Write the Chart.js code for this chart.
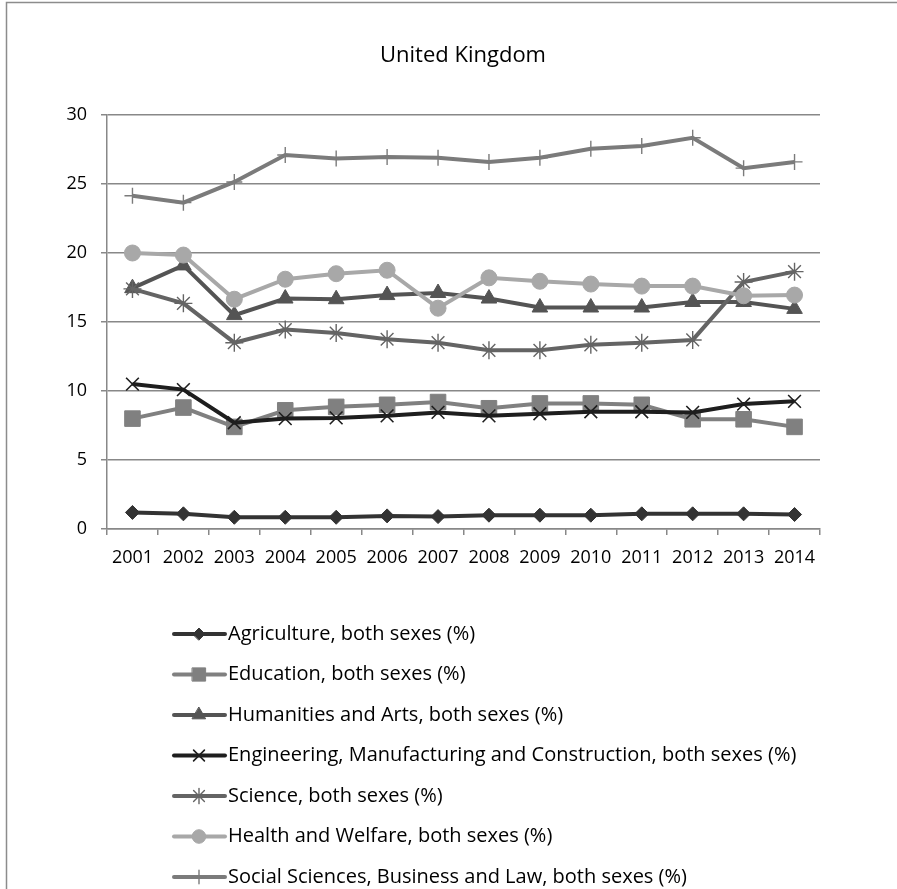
<!DOCTYPE html>
<html>
<head>
<meta charset="utf-8">
<title>United Kingdom</title>
<script src="https://cdn.jsdelivr.net/npm/chart.js@4"></script>
<style>
  html, body { margin: 0; padding: 0; background: #fff; }
  #wrap { position: relative; width: 897px; height: 889px; }
</style>
</head>
<body>
<div id="wrap"><canvas id="chart" width="897" height="889"></canvas></div>
<script>
// years on the x axis
const years = ['2001', '2002', '2003', '2004', '2005', '2006', '2007',
               '2008', '2009', '2010', '2011', '2012', '2013', '2014'];

// share of graduates by field, both sexes (%)
const agriculture = [1.2, 1.1, 0.85, 0.85, 0.85, 0.95, 0.9, 1.0, 1.0, 1.0, 1.1, 1.1, 1.1, 1.05];
const education = [8.0, 8.8, 7.4, 8.6, 8.85, 9.0, 9.2, 8.75, 9.1, 9.1, 9.0, 7.95, 7.95, 7.4];
const humanities = [17.45, 19.1, 15.5, 16.7, 16.65, 16.95, 17.1, 16.7, 16.05, 16.05, 16.05, 16.45, 16.45, 15.95];
const engineering = [10.5, 10.1, 7.7, 8.0, 8.05, 8.2, 8.45, 8.2, 8.35, 8.5, 8.5, 8.45, 9.05, 9.25];
const science = [17.4, 16.35, 13.5, 14.45, 14.2, 13.75, 13.5, 12.95, 12.95, 13.35, 13.5, 13.7, 17.9, 18.65];
const health = [20.0, 19.85, 16.65, 18.1, 18.5, 18.75, 16.0, 18.2, 17.95, 17.75, 17.6, 17.6, 16.9, 16.95];
const social = [24.15, 23.65, 25.15, 27.1, 26.85, 26.95, 26.9, 26.6, 26.9, 27.55, 27.75, 28.35, 26.15, 26.6];

const yTicks = [0, 5, 10, 15, 20, 25, 30];

const FONT = '"Open Sans", "Noto Sans", sans-serif';

// one entry per series: label, values, colour, marker
const series = [
  { label: 'Agriculture, both sexes (%)', data: agriculture, color: '#333333', style: 'rectRot', radius: 7, bw: 1 },
  { label: 'Education, both sexes (%)', data: education, color: '#808080', style: 'rect', radius: 11, bw: 1 },
  { label: 'Humanities and Arts, both sexes (%)', data: humanities, color: '#545454', style: 'triangle', radius: 9, bw: 1 },
  { label: 'Engineering, Manufacturing and Construction, both sexes (%)', data: engineering, color: '#1e1e1e', style: 'crossRot', radius: 9, bw: 1.6 },
  { label: 'Science, both sexes (%)', data: science, color: '#646464', style: 'star', radius: 9, bw: 1.4 },
  { label: 'Health and Welfare, both sexes (%)', data: health, color: '#a8a8a8', style: 'circle', radius: 8, bw: 1 },
  { label: 'Social Sciences, Business and Law, both sexes (%)', data: social, color: '#7b7b7b', style: 'cross', radius: 8, bw: 1.4 }
];

// frame, title and the stacked legend underneath the plot
const decorPlugin = {
  id: 'decor',
  beforeDraw(chart) {
    const ctx = chart.ctx;
    ctx.save();
    ctx.fillStyle = '#ffffff';
    ctx.fillRect(0, 0, chart.width, chart.height);
    ctx.strokeStyle = '#8c8c8c';
    ctx.lineWidth = 1.5;
    ctx.strokeRect(6.5, 2.5, 1200, 1200);
    ctx.restore();
  },
  afterDraw(chart) {
    const ctx = chart.ctx;
    ctx.save();
    ctx.fillStyle = '#000';
    ctx.textAlign = 'center';
    ctx.textBaseline = 'middle';
    ctx.font = '22px ' + FONT;
    ctx.fillText('United Kingdom', 463, 56);

    const rowTop = 634, rowGap = 40.5;
    series.forEach((s, i) => {
      const y = rowTop + i * rowGap;
      ctx.strokeStyle = s.color;
      ctx.lineWidth = 4;
      ctx.lineCap = 'round';
      ctx.beginPath();
      ctx.moveTo(174, y);
      ctx.lineTo(225, y);
      ctx.stroke();
      ctx.fillStyle = s.color;
      ctx.strokeStyle = s.color;
      ctx.lineWidth = s.bw;
      Chart.helpers.drawPoint(ctx, { pointStyle: s.style, radius: s.radius * 0.85, borderWidth: s.bw, rotation: 0 }, 199, y);
      ctx.fillStyle = '#000';
      ctx.textAlign = 'left';
      ctx.textBaseline = 'middle';
      ctx.font = '20px ' + FONT;
      ctx.fillText(s.label, 228, y);
    });
    ctx.restore();
  }
};

const datasets = series.map((s, i) => ({
  label: s.label,
  data: s.data,
  borderColor: s.color,
  backgroundColor: s.color,
  borderWidth: 4,
  pointStyle: s.style,
  pointRadius: s.radius,
  pointBorderWidth: s.bw,
  pointBackgroundColor: s.color,
  pointBorderColor: s.color,
  tension: 0,
  order: series.length - i
}));

new Chart(document.getElementById('chart'), {
  type: 'line',
  data: { labels: years, datasets: datasets },
  options: {
    responsive: false,
    animation: false,
    layout: { padding: { top: 115, left: 0, right: 77, bottom: 0 } },
    plugins: {
      legend: { display: false },
      title: { display: false },
      tooltip: { enabled: false }
    },
    scales: {
      x: {
        offset: true,
        grid: {
          offset: true,
          drawOnChartArea: false,
          drawTicks: true,
          tickLength: 6,
          color: '#888888',
          lineWidth: 1.5
        },
        border: { display: true, color: '#888888', width: 1.5 },
        ticks: {
          color: '#000',
          font: { family: FONT, size: 18 },
          padding: 12,
          maxRotation: 0,
          autoSkip: false
        },
        afterFit(scale) { scale.height = 889 - 529; }
      },
      y: {
        min: 0,
        max: 30,
        afterBuildTicks(scale) { scale.ticks = yTicks.map(v => ({ value: v })); },
        grid: {
          color: '#888888',
          lineWidth: 1.5,
          drawTicks: true,
          tickLength: 6
        },
        border: { display: true, color: '#888888', width: 1.5 },
        ticks: {
          color: '#000',
          font: { family: FONT, size: 18 },
          padding: 14
        },
        afterFit(scale) { scale.width = 107; }
      }
    }
  },
  plugins: [decorPlugin]
});
</script>
</body>
</html>
